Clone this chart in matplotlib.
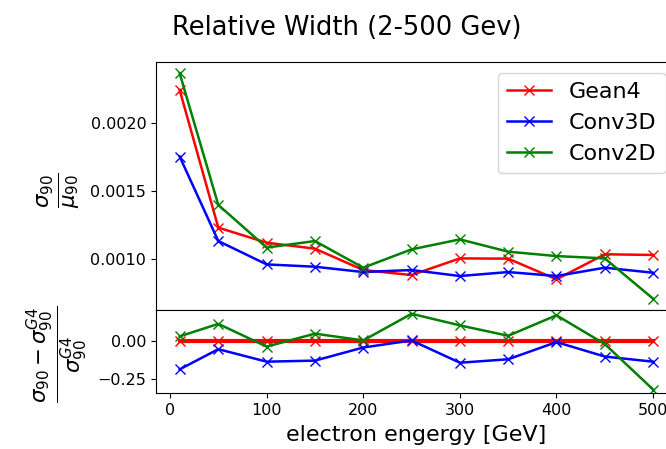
import matplotlib
matplotlib.use("Agg")
import matplotlib.pyplot as plt

# electron energies (GeV)
energy = [10, 50, 100, 150, 200, 250, 300, 350, 400, 450, 500]

# relative width sigma90/mu90
gean4 = [0.002239, 0.001232, 0.001122, 0.001078, 0.000922, 0.000885,
         0.001007, 0.001005, 0.000854, 0.001037, 0.001032]
conv3d = [0.001752, 0.001134, 0.000963, 0.000946, 0.000907, 0.000922,
          0.000878, 0.000907, 0.000878, 0.000939, 0.000902]
conv2d = [0.002361, 0.001398, 0.001086, 0.001134, 0.000939, 0.001073,
          0.001146, 0.001056, 0.001024, 0.001007, 0.000712]

# relative difference to Geant4
diff_gean4 = [0, 0, 0, 0, 0, 0, 0, 0, 0, 0, 0]
diff_conv3d = [-0.185, -0.051, -0.134, -0.127, -0.040, 0.007,
               -0.141, -0.118, -0.004, -0.100, -0.134]
diff_conv2d = [0.034, 0.117, -0.034, 0.052, 0.007, 0.184,
               0.107, 0.038, 0.174, -0.017, -0.319]

fig = plt.figure(figsize=(6.66, 4.49), dpi=100)
ax1 = fig.add_axes([0.2342, 0.3096, 0.782, 0.5523])
ax2 = fig.add_axes([0.2342, 0.1240, 0.782, 0.1856], sharex=ax1)

ax1.plot(energy, gean4, '-x', color='red', lw=1.8, ms=7, label='Gean4')
ax1.plot(energy, conv3d, '-x', color='blue', lw=1.8, ms=7, label='Conv3D')
ax1.plot(energy, conv2d, '-x', color='green', lw=1.8, ms=7, label='Conv2D')

ax2.plot(energy, diff_gean4, '-x', color='red', lw=3, ms=7)
ax2.plot(energy, diff_conv3d, '-x', color='blue', lw=1.8, ms=7)
ax2.plot(energy, diff_conv2d, '-x', color='green', lw=1.8, ms=7)

ax1.set_yticks([0.0010, 0.0015, 0.0020])
ax1.set_yticklabels(['0.0010', '0.0015', '0.0020'])
ax1.tick_params(bottom=False, labelbottom=False, labelsize=11.5)
ax2.set_yticks([-0.25, 0.0])
ax2.set_yticklabels(['\u22120.25', '0.00'])
ax2.set_xticks([0, 100, 200, 300, 400, 500])
ax2.tick_params(labelsize=11.5)

ax1.legend(loc='upper right', fontsize=16)
ax2.set_xlabel('electron engergy [GeV]', fontsize=16, labelpad=5)

fig.text(0.0878, 0.577, r'$\frac{\sigma_{90}}{\mu_{90}}$', rotation=90,
         ha='center', va='center', fontsize=22)
fig.text(0.0871, 0.211, r'$\frac{\sigma_{90}-\sigma_{90}^{G4}}{\sigma_{90}^{G4}}$',
         rotation=90, ha='center', va='center', fontsize=22)
fig.text(0.521, 0.922, 'Relative Width (2-500 Gev)', ha='center',
         va='baseline', fontsize=18.5)

fig.savefig('out.png', dpi=100)
